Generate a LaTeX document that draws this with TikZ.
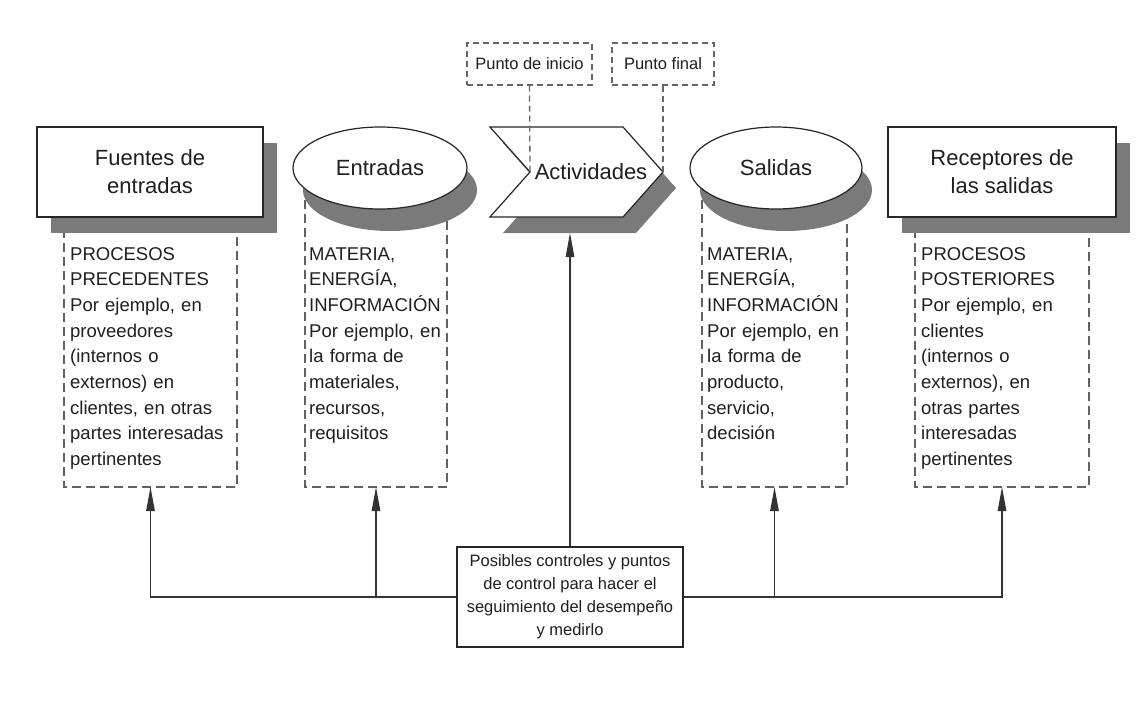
\documentclass[tikz,border=0pt]{standalone}
\usepackage{fontspec}
\setmainfont{Liberation Sans}
\usetikzlibrary{arrows.meta,calc,shapes.geometric,shadows}
\begin{document}
\begin{tikzpicture}[x=1pt,y=-1pt,
  shd/.style={drop shadow={shadow xshift=#1, shadow yshift=-16pt, fill=black!52, opacity=1}},
  eshd/.style={drop shadow={shadow xshift=#1, shadow yshift=-22pt, fill=black!52, opacity=1}},
  mainshape/.style={draw=black!85, line width=1.2pt, fill=white, inner sep=0pt},
  titletxt/.style={font=\fontsize{22}{28}\selectfont, text=black!88, align=center},
  cont/.style={draw=none, inner sep=0pt, outer sep=0pt, anchor=north west, rectangle},
  dline/.style={draw=black!62, line width=1.5pt, dash pattern=on 9pt off 5pt},
  bodytxt/.style={font=\fontsize{18.5}{25.7}\selectfont, text=black!88, text width=180pt, align=left, anchor=base west, inner sep=0pt},
  pline/.style={draw=black!60, line width=1.3pt, dash pattern=on 6pt off 4pt},
  pbox/.style={pline, inner sep=0pt,
     font=\fontsize{16.5}{19}\selectfont, text=black!88, minimum height=42pt},
  conn/.style={draw=black!80, line width=1.1pt},
  arr/.style={conn, -{Triangle[length=24pt,width=8.5pt]}}
]
\useasboundingbox[fill=white] (0,0) rectangle (1138,702);

% dashed containers
\node[cont, minimum width=173pt, minimum height=272pt] (d1) at (64,215) {};
\node[cont, minimum width=142pt, minimum height=287pt] (d2) at (305,200) {};
\node[cont, minimum width=145pt, minimum height=287pt] (d3) at (702,200) {};
\node[cont, minimum width=174pt, minimum height=272pt] (d4) at (915,215) {};
\foreach \d in {d1,d2,d3,d4}{
  \draw[dline] (\d.north west) -- (\d.south west) -- (\d.south east) -- (\d.north east);
}

% main shapes
\node[mainshape, titletxt, rectangle, minimum width=226pt, minimum height=90pt, shd=14pt] (fe) at (150,172) {Fuentes de\\entradas};
\node[mainshape, titletxt, ellipse, minimum width=174pt, minimum height=82pt, eshd=10pt] (en) at (380,168) {Entradas};
\path[mainshape, shd=13pt] (490,127) -- (623,127) -- (663,172) -- (623,217) -- (490,217) -- (530,172) -- cycle;
\node[titletxt] (act) at (591,172) {Actividades};
\coordinate (notch) at (530,172);
\coordinate (tipp) at (663,172);
\coordinate (actb) at (570,233);
\node[mainshape, titletxt, ellipse, minimum width=172pt, minimum height=82pt, eshd=10pt] (sa) at (776,168) {Salidas};
\node[mainshape, titletxt, rectangle, minimum width=228pt, minimum height=90pt, shd=14pt] (re) at (1002,172) {Receptores de\\las salidas};

% start / end points
\node[pbox, minimum width=125pt] (pi) at (529.5,64) {Punto de inicio};
\node[pbox, minimum width=102pt] (pf) at (663,64) {Punto final};
\draw[pline] (pi.south) -- (notch);
\draw[pline] (pf.south) -- (tipp);

% body texts
\node[bodytxt] (t1) at (70,260) {PROCESOS\\PRECEDENTES\\Por ejemplo, en\\proveedores\\(internos o\\externos) en\\clientes, en otras\\partes interesadas\\pertinentes};
\node[bodytxt] (t2) at (309,260) {MATERIA,\\ENERGÍA,\\INFORMACIÓN\\Por ejemplo, en\\la forma de\\materiales,\\recursos,\\requisitos};
\node[bodytxt] (t3) at (707,260) {MATERIA,\\ENERGÍA,\\INFORMACIÓN\\Por ejemplo, en\\la forma de\\producto,\\servicio,\\decisión};
\node[bodytxt] (t4) at (921,260) {PROCESOS\\POSTERIORES\\Por ejemplo, en\\clientes\\(internos o\\externos), en\\otras partes\\interesadas\\pertinentes};

% control box
\node[draw=black!85, line width=1.3pt, fill=white, minimum width=226pt, minimum height=100pt, inner sep=0pt,
  font=\fontsize{16.5}{23}\selectfont, text=black!88, align=center] (cb) at (570,597)
  {Posibles controles y puntos\\de control para hacer el\\seguimiento del desempeño\\y medirlo};

% connectors
\draw[arr] (cb.north) -- (actb);
\draw[arr] (cb.west) -| (d1.south);
\draw[arr] (cb.west -| d2.south) -- (d2.south);
\draw[arr] (cb.east) -| (d4.south);
\draw[arr] (cb.east -| d3.south) -- (d3.south);
\end{tikzpicture}
\end{document}
